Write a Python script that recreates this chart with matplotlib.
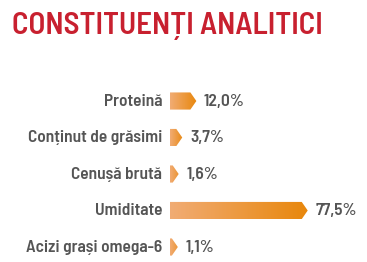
import matplotlib
matplotlib.use("Agg")
import matplotlib.pyplot as plt
from matplotlib.patches import Polygon
from matplotlib.colors import LinearSegmentedColormap
import numpy as np

title = "CONSTITUENȚI ANALITICI"
categories = ["Proteină", "Conținut de grăsimi", "Cenușă brută", "Umiditate", "Acizi grași omega-6"]
values = [12.0, 3.7, 1.6, 77.5, 1.1]
value_labels = ["12,0%", "3,7%", "1,6%", "77,5%", "1,1%"]

font = ["Barlow Semi Condensed", "DejaVu Sans"]
text_gray = "#555555"
title_red = "#c8202f"
grad = LinearSegmentedColormap.from_list("bar", ["#f1ac74", "#e8870c"])

fig = plt.figure(figsize=(3.67, 2.62), dpi=100)
fig.patch.set_facecolor("white")

# title in figure coordinates, baseline at 33px from the top
fig.text(12 / 367, 1 - 33.5 / 262, title, color=title_red, fontsize=22.3, fontweight=600,
         family=font, ha="left", va="baseline")

# axes holding the bars: starts at x=170px, rows 36.5px apart
ax = fig.add_axes([170 / 367, 0.0015, 197 / 367, 178.85 / 262])
ax.set_xlim(0, 197 / 1.7)
ax.set_ylim(4.4, -0.5)
ax.axis("off")

tip = 3.5
half = 0.235
for i, v in enumerate(values):
    poly = Polygon([(0, i - half), (v, i - half), (v + tip, i), (v, i + half), (0, i + half)],
                   closed=True, facecolor="none", edgecolor="none")
    ax.add_patch(poly)
    g = np.linspace(0, 1, 256).reshape(1, -1)
    im = ax.imshow(g, cmap=grad, aspect="auto", extent=[0, max(v + tip, 8), i + half, i - half],
                   interpolation="bilinear")
    im.set_clip_path(poly)
    ax.text(v + tip + 4.5, i, value_labels[i], color=text_gray, fontsize=12.5, fontweight=600,
            family=font, ha="left", va="center")
    ax.text(-4.5, i, categories[i], color=text_gray, fontsize=12.5, fontweight=600,
            family=font, ha="right", va="center", clip_on=False)

ax.set_xlim(0, 197 / 1.7)
ax.set_ylim(4.4, -0.5)

fig.savefig("out.png", dpi=100, facecolor="white")
